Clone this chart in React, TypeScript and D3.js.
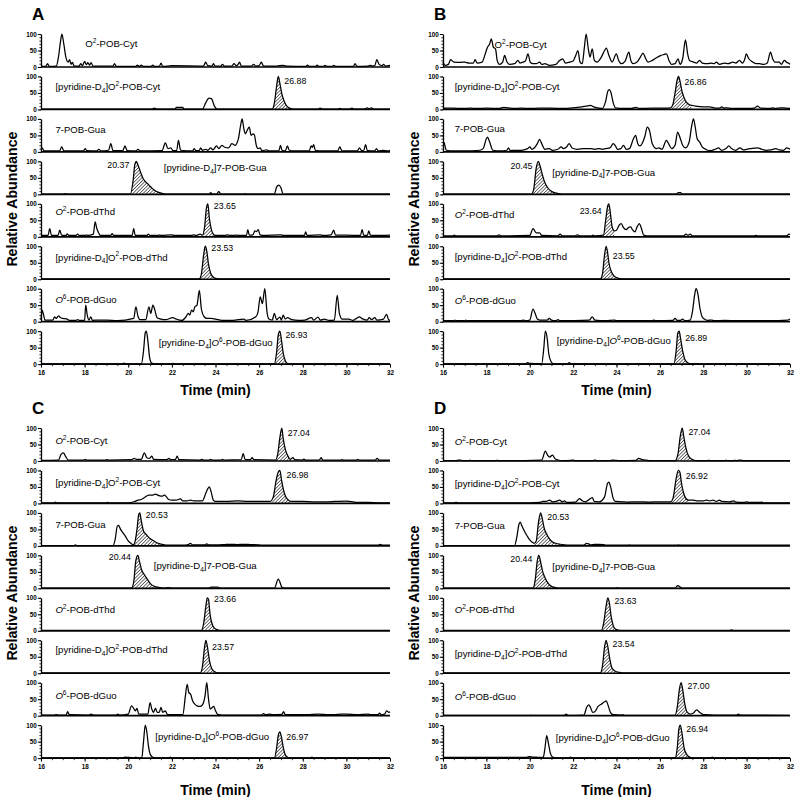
import React, { useRef, useEffect } from 'react';
import * as d3 from 'd3';

// Chromatogram traces: flat lists of [time (min), relative abundance (%)]
// Panel A
const a1 = [16,3, 16.22,2, 16.3,10, 16.38,2, 16.7,3, 16.8,30, 16.9,80, 16.96,100, 17.04,72, 17.14,30, 17.24,15, 17.31,22, 17.38,8, 17.44,14, 17.52,3, 17.75,3, 17.82,10, 17.9,4, 18.0,17, 18.08,7, 18.15,13, 18.22,6, 18.3,13, 18.38,3, 19.3,3, 19.37,10, 19.45,2, 20.35,2, 20.42,6, 20.5,2, 20.6,6, 20.68,2, 21.05,2, 21.12,6, 21.2,2, 21.43,2, 21.5,12, 21.58,2, 22.0,4, 23.45,3, 23.55,15, 23.64,4, 23.84,3, 23.9,10, 23.98,3, 24.25,3, 24.32,8, 24.4,3, 24.75,3, 24.85,10, 24.95,4, 25.04,8, 25.1,15, 25.18,3, 25.65,3, 25.75,8, 25.84,3, 26.0,4, 26.1,15, 26.2,3, 26.8,3, 27.08,5, 27.25,3, 28.15,2, 28.22,6, 28.3,2, 28.6,2, 28.66,6, 28.74,2, 28.95,2, 29.02,5, 29.1,2, 29.35,2, 29.42,5, 29.5,2, 30.32,2, 30.4,10, 30.48,2, 31.0,3, 31.1,5, 31.2,3, 31.3,4, 31.4,22, 31.5,8, 31.63,4, 31.7,8, 31.8,3, 32,5];
const a2 = [16,1, 18,1, 21.1,1, 21.2,4, 21.3,1, 22.15,1, 22.2,6, 22.5,6, 22.55,1, 23.4,1, 23.55,20, 23.7,34, 23.82,32, 23.95,10, 24.08,1, 26.6,1, 26.7,20, 26.8,70, 26.88,100, 26.95,80, 27.05,45, 27.15,25, 27.25,12, 27.4,4, 27.55,1, 28.7,1, 28.8,4, 28.9,1, 29.6,1, 29.7,3, 29.8,1, 30.15,1, 30.25,4, 30.35,1, 30.85,1, 30.95,5, 31.05,2, 31.15,5, 31.25,1, 32,1];
const a3 = [16,5, 16.05,12, 16.15,3, 16.85,3, 16.95,15, 17.05,3, 17.95,3, 18.02,10, 18.1,4, 18.55,3, 18.65,8, 18.75,3, 19.1,5, 19.2,25, 19.3,4, 19.75,4, 19.85,18, 19.95,4, 20.35,3, 20.45,8, 20.55,3, 21.55,4, 21.7,27, 21.82,10, 21.95,12, 22.05,4, 22.22,4, 22.3,35, 22.4,5, 22.95,3, 23.02,10, 23.1,4, 23.25,4, 23.32,12, 23.4,5, 23.55,8, 23.65,5, 23.78,12, 23.88,6, 24.05,18, 24.15,10, 24.3,20, 24.4,15, 24.6,12, 24.75,25, 24.9,20, 25.05,40, 25.15,80, 25.22,100, 25.3,70, 25.37,55, 25.45,65, 25.55,75, 25.63,50, 25.72,55, 25.78,52, 25.87,20, 25.95,10, 26.05,12, 26.12,4, 26.35,6, 26.45,3, 26.9,3, 26.98,20, 27.05,5, 27.2,3, 27.3,18, 27.38,5, 27.6,3, 28.3,3, 28.38,18, 28.44,14, 28.5,22, 28.58,4, 29.0,3, 29.6,3, 29.7,15, 29.8,3, 30.5,3, 30.6,12, 30.7,4, 30.8,5, 30.88,22, 30.96,4, 31.3,3, 31.38,10, 31.46,3, 31.7,5, 31.9,3, 32,5];
const a4 = [16,1, 17.05,1, 17.12,2, 17.2,1, 20.1,1, 20.22,40, 20.3,90, 20.37,100, 20.45,88, 20.55,70, 20.68,48, 20.8,38, 20.95,28, 21.1,18, 21.25,10, 21.4,6, 21.55,3, 21.7,1, 23.7,1, 23.78,5, 23.86,1, 24.05,1, 24.15,8, 24.25,1, 25.3,1, 25.35,2, 25.4,1, 26.7,1, 26.8,22, 26.9,28, 27.0,20, 27.1,1, 32,1];
const a5 = [16,4, 16.32,4, 16.4,25, 16.48,4, 16.78,4, 16.86,20, 16.95,4, 17.15,4, 17.2,9, 17.27,4, 17.6,4, 17.68,8, 17.76,4, 18.02,4, 18.08,6, 18.15,4, 18.4,8, 18.48,45, 18.56,25, 18.64,12, 18.72,4, 19.2,4, 19.26,10, 19.33,4, 20.18,4, 20.25,25, 20.32,4, 20.85,4, 20.92,8, 21.0,4, 21.38,4, 21.44,6, 21.5,4, 22.0,6, 22.1,4, 22.9,4, 23.0,6, 23.1,4, 23.3,8, 23.4,5, 23.5,30, 23.58,85, 23.65,100, 23.72,55, 23.8,25, 23.9,8, 24.0,4, 24.45,4, 24.55,6, 24.65,4, 25.0,5, 25.1,4, 25.42,4, 25.48,22, 25.55,5, 25.72,6, 25.8,18, 25.88,16, 25.96,22, 26.04,6, 26.2,4, 27.0,6, 27.1,4, 28.08,4, 28.13,15, 28.2,4, 28.8,6, 28.9,4, 29.3,6, 29.42,20, 29.5,5, 30.0,5, 30.65,4, 30.72,22, 30.8,4, 30.96,4, 31.03,18, 31.1,5, 31.25,4, 32,5];
const a6 = [16,1, 23.25,1, 23.35,15, 23.45,70, 23.53,100, 23.6,85, 23.68,45, 23.78,18, 23.9,6, 24.05,2, 24.2,1, 32,1];
const a7 = [16,5, 16.05,35, 16.12,20, 16.18,5, 16.55,5, 16.62,15, 16.7,10, 16.8,18, 16.9,12, 17.0,10, 17.2,8, 17.3,4, 17.6,4, 17.68,6, 17.76,4, 18.0,4, 18.05,50, 18.12,20, 18.2,5, 18.28,15, 18.36,4, 18.6,5, 19.0,5, 19.5,3, 20.25,10, 20.35,45, 20.45,15, 20.55,6, 20.8,6, 20.95,45, 21.03,25, 21.13,50, 21.22,35, 21.32,12, 21.5,8, 21.7,6, 22.05,12, 22.2,8, 22.45,4, 22.65,15, 22.75,25, 22.82,20, 22.9,35, 22.98,30, 23.05,45, 23.15,50, 23.26,95, 23.35,40, 23.48,15, 23.6,10, 23.8,10, 24.0,8, 24.3,4, 24.8,4, 25.3,8, 25.4,4, 25.85,15, 25.95,30, 26.05,75, 26.15,55, 26.26,100, 26.36,30, 26.45,8, 26.6,5, 26.7,25, 26.8,6, 26.95,14, 27.02,5, 27.1,20, 27.2,8, 27.3,12, 27.5,6, 27.8,4, 28.1,5, 28.4,12, 28.5,5, 28.7,14, 28.8,5, 29.0,8, 29.2,4, 29.45,5, 29.58,80, 29.68,25, 29.8,8, 30.1,8, 30.3,4, 30.6,15, 30.7,10, 30.95,5, 31.05,12, 31.15,6, 31.3,12, 31.4,5, 31.7,8, 31.84,22, 31.95,5, 32,5];
const a8 = [16,1, 19.7,1, 19.8,3, 19.9,1, 20.6,1, 20.7,40, 20.78,95, 20.83,100, 20.9,70, 20.98,20, 21.08,3, 21.2,1, 22.0,1, 22.05,2, 22.1,1, 26.7,1, 26.8,35, 26.88,90, 26.95,100, 27.02,75, 27.1,35, 27.2,10, 27.3,2, 27.4,1, 32,1];

// Panel B
const b1 = [16,15, 16.1,5, 16.25,8, 16.35,22, 16.5,15, 16.8,14, 17.0,15, 17.2,12, 17.4,12, 17.48,22, 17.58,12, 17.8,15, 17.95,40, 18.05,60, 18.15,70, 18.23,85, 18.32,60, 18.42,55, 18.5,20, 18.6,8, 18.75,15, 18.84,35, 18.95,15, 19.07,8, 19.3,10, 19.46,20, 19.55,12, 19.65,14, 19.8,18, 19.92,40, 20.02,15, 20.15,10, 20.3,10, 20.45,15, 20.55,8, 20.7,10, 20.9,5, 21.2,8, 21.35,18, 21.52,25, 21.65,12, 21.84,15, 22.0,18, 22.12,35, 22.22,50, 22.32,15, 22.42,10, 22.52,60, 22.6,100, 22.7,55, 22.78,30, 22.88,55, 22.98,20, 23.1,15, 23.3,30, 23.45,50, 23.53,57, 23.65,35, 23.8,15, 23.99,40, 24.1,20, 24.22,10, 24.4,18, 24.57,45, 24.66,20, 24.76,10, 24.95,15, 25.1,30, 25.22,42, 25.35,25, 25.45,15, 25.65,20, 25.84,28, 26.05,35, 26.2,38, 26.3,40, 26.42,20, 26.53,8, 26.7,10, 26.84,25, 26.93,8, 27.05,25, 27.18,82, 27.28,40, 27.37,20, 27.55,15, 27.7,12, 27.83,20, 27.95,12, 28.21,10, 28.35,12, 28.5,10, 28.6,15, 28.75,8, 28.98,12, 29.15,10, 29.36,15, 29.5,12, 29.67,20, 29.8,12, 29.92,25, 29.98,40, 30.1,25, 30.28,15, 30.45,10, 30.59,10, 30.8,8, 30.95,12, 31.1,45, 31.2,25, 31.3,15, 31.5,15, 31.6,8, 31.74,20, 31.85,14, 31.97,10, 32,8];
const b2 = [16,4, 16.5,4, 16.8,3, 17.3,4, 17.5,3, 18.0,4, 18.6,3, 18.8,6, 19.2,3, 19.6,4, 20.0,3, 20.4,4, 21.0,4, 21.5,3, 22.0,5, 22.4,8, 22.6,10, 22.8,12, 22.95,8, 23.2,4, 23.35,3, 23.5,25, 23.6,55, 23.67,60, 23.75,50, 23.85,20, 23.95,5, 24.3,3, 24.7,3, 24.9,6, 25.05,3, 25.6,4, 26.2,4, 26.5,5, 26.6,15, 26.7,50, 26.8,90, 26.86,100, 26.93,85, 27.02,55, 27.12,35, 27.22,22, 27.35,15, 27.5,12, 27.65,10, 28.0,8, 28.3,8, 28.5,5, 28.75,4, 28.85,8, 28.95,4, 29.1,5, 29.3,3, 30.0,3, 30.35,4, 30.5,10, 30.65,4, 31.1,3, 31.2,5, 31.3,3, 31.6,5, 31.8,4, 32,3];
const b3 = [16,30, 16.05,28, 16.15,5, 16.5,3, 17.0,3, 17.7,5, 17.85,10, 18.0,40, 18.05,45, 18.15,30, 18.3,5, 18.6,3, 18.95,5, 19.02,12, 19.1,4, 19.3,5, 19.6,5, 19.9,10, 20.0,15, 20.1,8, 20.35,25, 20.45,38, 20.55,25, 20.7,8, 20.9,10, 21.05,5, 21.3,8, 21.45,15, 21.55,10, 21.7,15, 21.82,25, 21.95,12, 22.2,8, 22.5,10, 22.8,10, 23.0,8, 23.2,10, 23.35,8, 23.5,10, 23.7,12, 23.85,25, 23.95,18, 24.05,8, 24.2,10, 24.32,20, 24.45,8, 24.6,10, 24.78,40, 24.88,50, 24.98,25, 25.08,18, 25.3,45, 25.42,75, 25.52,65, 25.65,25, 25.85,10, 25.95,12, 26.1,8, 26.3,35, 26.4,25, 26.55,10, 26.7,20, 26.82,60, 26.92,45, 27.05,20, 27.18,12, 27.35,30, 27.47,80, 27.55,100, 27.63,75, 27.72,40, 27.85,28, 27.95,15, 28.05,10, 28.2,5, 28.35,4, 28.55,8, 28.7,12, 28.85,5, 29.05,10, 29.18,18, 29.3,10, 29.5,5, 29.7,12, 29.85,6, 30.0,8, 30.2,10, 30.5,12, 30.7,8, 30.9,5, 31.1,6, 31.35,10, 31.5,6, 31.7,5, 31.85,12, 31.95,10, 32,8];
const b4 = [16,1, 20.08,1, 20.18,15, 20.3,80, 20.4,100, 20.48,85, 20.58,60, 20.7,35, 20.83,20, 20.98,10, 21.13,5, 21.28,3, 21.45,1, 26.75,1, 26.85,5, 26.95,5, 27.05,1, 32,1];
const b5 = [16,3, 16.45,3, 16.52,5, 16.6,3, 18.5,3, 18.58,6, 18.66,3, 20.0,4, 20.15,25, 20.3,12, 20.45,12, 20.55,4, 21.3,3, 21.4,8, 21.5,3, 22.1,3, 22.2,6, 22.3,3, 22.85,3, 22.92,5, 23.0,3, 23.4,5, 23.5,50, 23.6,95, 23.65,100, 23.72,70, 23.8,30, 23.9,18, 24.0,20, 24.12,35, 24.22,40, 24.32,28, 24.45,22, 24.55,28, 24.65,30, 24.75,20, 24.85,15, 24.95,30, 25.05,40, 25.15,25, 25.25,5, 25.4,3, 27.1,3, 27.2,8, 27.3,5, 27.4,8, 27.5,3, 30.35,3, 30.42,4, 30.5,3, 31.85,3, 31.95,8, 32,6];
const b6 = [16,1, 23.25,1, 23.35,15, 23.45,75, 23.52,100, 23.58,85, 23.65,50, 23.75,25, 23.88,10, 24.0,5, 24.15,2, 24.3,1, 32,1];
const b7 = [16,3, 16.5,3, 16.55,5, 16.6,3, 17.0,3, 17.05,5, 17.1,3, 19.6,3, 19.7,5, 19.8,3, 20.0,5, 20.15,38, 20.25,25, 20.35,8, 20.45,5, 20.8,5, 20.9,10, 21.0,5, 21.2,3, 21.3,6, 21.4,3, 22.75,5, 22.88,15, 23.0,5, 23.5,3, 23.9,5, 24.0,3, 25.65,3, 25.72,5, 25.8,3, 26.6,4, 26.7,10, 26.8,4, 26.95,4, 27.05,8, 27.15,3, 27.4,5, 27.5,30, 27.6,80, 27.67,100, 27.75,85, 27.85,40, 27.95,15, 28.05,8, 28.2,4, 28.4,5, 28.5,3, 29.0,4, 29.5,3, 30.0,3, 30.5,3, 31.0,3, 31.9,5, 32,8];
const b8 = [16,1, 19.8,1, 19.9,5, 20.0,2, 20.55,1, 20.65,50, 20.72,100, 20.8,80, 20.88,30, 20.98,8, 21.1,1, 21.75,1, 21.82,5, 21.9,1, 26.65,1, 26.75,40, 26.83,95, 26.89,100, 26.95,80, 27.05,40, 27.15,15, 27.25,6, 27.4,1, 32,1];

// Panel C
const c1 = [16,2, 16.8,3, 16.92,20, 17.03,25, 17.12,15, 17.25,3, 17.95,3, 18.03,5, 18.1,3, 18.95,3, 19.03,4, 19.1,3, 20.15,4, 20.28,8, 20.36,5, 20.6,5, 20.74,25, 20.85,10, 20.98,8, 21.08,15, 21.16,5, 21.78,4, 21.86,8, 21.94,4, 22.16,4, 22.24,15, 22.32,4, 23.3,3, 23.35,5, 23.45,3, 23.7,3, 23.78,5, 23.85,3, 24.25,3, 24.32,5, 24.4,3, 25.18,4, 25.27,22, 25.36,4, 25.6,4, 25.68,10, 25.76,4, 26.75,3, 26.85,20, 26.95,70, 27.04,100, 27.1,70, 27.2,35, 27.32,15, 27.42,5, 27.55,10, 27.63,4, 27.98,3, 28.05,6, 28.12,3, 28.76,3, 28.84,10, 28.92,3, 29.75,3, 29.8,4, 29.86,3, 30.45,3, 30.52,5, 30.6,3, 31.33,3, 31.41,8, 31.5,3, 32,3];
const c2 = [16,2, 16.6,2, 16.66,4, 16.72,2, 19.0,2, 19.05,3, 19.1,2, 20.0,2, 20.3,6, 20.45,10, 20.6,12, 20.75,18, 20.94,25, 21.1,25, 21.24,28, 21.4,24, 21.55,22, 21.65,25, 21.75,20, 21.85,12, 22.0,10, 22.2,10, 22.39,14, 22.5,8, 22.7,8, 22.85,10, 23.0,8, 23.2,8, 23.4,8, 23.55,30, 23.65,45, 23.72,50, 23.8,35, 23.9,10, 24.0,6, 24.5,6, 25.0,8, 25.5,6, 26.0,6, 26.5,6, 26.65,20, 26.78,70, 26.88,95, 26.95,100, 27.03,70, 27.12,40, 27.22,20, 27.35,10, 27.5,6, 28.0,6, 28.5,5, 29.0,5, 29.5,6, 30.0,7, 30.3,5, 30.5,3, 31.0,3, 31.5,2, 32,2];
const c3 = [16,1, 17.5,1, 17.58,3, 17.65,1, 19.3,1, 19.4,20, 19.5,60, 19.56,62, 19.65,50, 19.75,40, 19.88,28, 20.0,15, 20.12,8, 20.22,3, 20.3,10, 20.4,50, 20.48,95, 20.53,100, 20.6,75, 20.7,45, 20.82,35, 20.95,25, 21.1,18, 21.25,12, 21.45,6, 21.6,4, 21.8,2, 22.5,2, 22.75,4, 22.85,8, 22.95,3, 23.5,3, 23.6,6, 23.7,3, 24.1,3, 24.4,4, 24.7,5, 25.0,4, 25.3,5, 25.6,4, 26.0,3, 26.2,2, 28.0,2, 29.8,2, 31.45,2, 31.56,5, 31.65,2, 32,2];
const c4 = [16,1, 20.15,1, 20.25,20, 20.35,85, 20.44,100, 20.52,80, 20.62,55, 20.75,40, 20.9,25, 21.05,12, 21.2,6, 21.4,3, 21.6,1, 21.85,2, 22.0,1, 23.7,1, 23.8,4, 24.1,4, 24.2,1, 26.7,1, 26.88,28, 27.05,3, 27.15,1, 32,1];
const c5 = [16,1, 23.35,1, 23.45,20, 23.55,70, 23.62,100, 23.68,95, 23.75,50, 23.85,20, 23.95,8, 24.1,3, 24.25,1, 32,1];
const c6 = [16,1, 23.3,1, 23.4,20, 23.5,80, 23.56,100, 23.63,80, 23.72,40, 23.82,15, 23.95,5, 24.1,1, 32,1];
const c7 = [16,2, 16.6,2, 16.7,3, 16.8,2, 17.15,2, 17.22,12, 17.3,3, 18.2,2, 18.3,5, 18.4,2, 19.45,2, 19.52,5, 19.6,2, 20.0,5, 20.15,30, 20.25,22, 20.32,15, 20.4,22, 20.48,5, 20.9,5, 21.0,40, 21.08,20, 21.15,10, 21.25,22, 21.33,10, 21.42,10, 21.5,25, 21.58,10, 21.7,15, 21.8,3, 22.5,3, 22.62,60, 22.7,95, 22.78,70, 22.86,65, 22.95,45, 23.05,35, 23.15,30, 23.3,28, 23.42,35, 23.52,60, 23.6,100, 23.68,50, 23.76,20, 23.85,25, 23.92,28, 24.0,15, 24.1,4, 24.3,2, 26.1,2, 26.2,6, 26.3,3, 26.5,5, 26.6,3, 27.05,4, 27.12,12, 27.2,3, 27.8,3, 28.2,3, 28.7,5, 29.2,3, 29.6,4, 30.0,5, 30.5,3, 31.0,5, 31.1,3, 31.45,3, 31.52,8, 31.6,3, 31.75,5, 31.85,15, 31.95,10, 32,12];
const c8 = [16,1, 19.7,1, 19.85,3, 20.0,2, 20.3,1, 20.35,3, 20.42,1, 20.62,1, 20.7,50, 20.78,100, 20.85,80, 20.93,35, 21.02,10, 21.15,2, 21.3,1, 21.85,1, 21.92,3, 22.0,1, 26.7,1, 26.8,30, 26.88,70, 26.95,80, 27.02,65, 27.1,35, 27.2,10, 27.3,3, 27.4,1, 28.35,1, 28.42,3, 28.5,1, 32,1];

// Panel D
const dp1 = [16,1, 16.6,1, 16.7,3, 16.8,3, 16.9,1, 17.2,1, 17.25,3, 17.3,1, 18.45,1, 18.5,3, 18.55,1, 20.55,3, 20.72,30, 20.82,18, 20.92,12, 21.05,18, 21.15,8, 21.3,3, 21.5,1, 21.9,2, 22.0,3, 22.1,1, 22.9,1, 23.0,3, 23.1,1, 23.7,1, 23.8,3, 23.9,2, 24.0,2, 24.1,1, 24.9,2, 25.02,8, 25.15,5, 25.3,3, 25.5,1, 26.7,1, 26.83,20, 26.94,75, 27.03,100, 27.1,75, 27.2,40, 27.3,18, 27.42,8, 27.55,3, 27.7,1, 28.2,1, 28.25,3, 28.3,1, 29.0,1, 29.05,3, 29.1,1, 29.4,1, 29.45,3, 29.5,1, 29.7,3, 29.9,1, 32,1];
const dp2 = [16,2, 16.5,2, 16.6,3, 16.7,2, 18.0,2, 19.0,2, 20.0,2, 20.45,3, 20.6,6, 20.75,6, 20.92,10, 21.05,5, 21.2,6, 21.38,10, 21.5,5, 21.6,8, 21.7,3, 22.1,4, 22.3,15, 22.42,8, 22.55,5, 22.7,10, 22.88,18, 22.98,6, 23.2,5, 23.45,20, 23.58,60, 23.65,65, 23.73,50, 23.85,15, 23.95,6, 24.3,5, 24.5,4, 25.0,5, 25.5,4, 26.0,5, 26.5,5, 26.62,20, 26.75,75, 26.85,100, 26.92,95, 27.0,60, 27.1,30, 27.2,15, 27.32,10, 27.5,10, 27.7,8, 28.0,8, 28.15,10, 28.3,8, 28.45,10, 28.6,6, 28.75,10, 28.85,6, 29.2,5, 29.4,8, 29.5,4, 29.9,3, 30.0,5, 30.1,3, 30.6,3, 30.7,4, 30.8,2, 32,2];
const dp3 = [16,1, 19.3,1, 19.4,25, 19.5,65, 19.56,72, 19.64,60, 19.75,45, 19.88,30, 20.0,18, 20.1,12, 20.2,8, 20.3,15, 20.4,70, 20.5,100, 20.57,85, 20.66,55, 20.76,38, 20.9,22, 21.05,12, 21.2,8, 21.4,5, 21.6,3, 21.8,2, 22.5,2, 22.62,8, 22.72,6, 22.8,3, 23.0,5, 23.2,5, 23.4,4, 23.5,2, 24.5,2, 24.6,3, 24.7,2, 26.75,2, 26.85,3, 26.95,2, 32,2];
const dp4 = [16,1, 20.15,1, 20.25,25, 20.35,85, 20.42,100, 20.5,80, 20.6,50, 20.72,30, 20.85,15, 21.0,6, 21.15,3, 21.3,1, 24.0,1, 24.05,2, 24.1,1, 26.7,1, 26.82,8, 26.92,5, 27.02,1, 32,1];
const dp5 = [16,1, 23.3,1, 23.4,20, 23.52,75, 23.6,100, 23.67,85, 23.75,45, 23.85,15, 23.95,5, 24.1,2, 24.25,1, 29.2,1, 29.3,3, 29.4,1, 32,1];
const dp6 = [16,1, 23.25,1, 23.35,20, 23.45,80, 23.52,100, 23.6,80, 23.7,40, 23.8,15, 23.95,6, 24.1,3, 24.25,1, 32,1];
const dp7 = [16,1, 20.0,1, 20.05,2, 20.1,1, 21.6,1, 21.68,5, 21.76,1, 22.5,2, 22.62,25, 22.72,33, 22.8,25, 22.9,10, 23.0,12, 23.15,28, 23.3,35, 23.45,42, 23.52,45, 23.62,30, 23.72,10, 23.85,3, 24.25,2, 24.3,3, 24.35,1, 26.7,1, 26.8,25, 26.9,80, 26.98,100, 27.05,80, 27.15,35, 27.25,12, 27.4,5, 27.55,8, 27.7,18, 27.8,12, 27.95,5, 28.1,3, 28.5,2, 29.55,2, 29.62,5, 29.7,2, 32,1];
const dp8 = [16,2, 19.85,2, 19.95,5, 20.05,4, 20.15,3, 20.3,3, 20.4,2, 20.62,2, 20.7,30, 20.78,68, 20.86,45, 20.95,15, 21.05,3, 21.2,1, 21.8,1, 21.88,3, 21.95,1, 26.7,1, 26.8,30, 26.88,90, 26.94,100, 27.02,75, 27.12,30, 27.25,10, 27.35,4, 27.5,1, 28.35,1, 28.42,3, 28.5,1, 32,1];

// trace names (_x subscript, ^x superscript, *O italic O)
const namesA = ['O^2-POB-Cyt', '[pyridine-D_4]O^2-POB-Cyt', '7-POB-Gua', '[pyridine-D_4]7-POB-Gua', '*O^2-POB-dThd', '[pyridine-D_4]O^2-POB-dThd', '*O^6-POB-dGuo', '[pyridine-D_4]*O^6-POB-dGuo'];
const namesB = ['O^2-POB-Cyt', '[pyridine-D_4]O^2-POB-Cyt', '7-POB-Gua', '[pyridine-D_4]7-POB-Gua', '*O^2-POB-dThd', '[pyridine-D_4]*O^2-POB-dThd', '*O^6-POB-dGuo', '[pyridine-D_4]*O^6-POB-dGuo'];
const namesC = ['*O^2-POB-Cyt', '[pyridine-D_4]O^2-POB-Cyt', '7-POB-Gua', '[pyridine-D_4]7-POB-Gua', '*O^2-POB-dThd', '[pyridine-D_4]O^2-POB-dThd', '*O^6-POB-dGuo', '[pyridine-D_4]*O^6-POB-dGuo'];
const namesD = ['*O^2-POB-Cyt', '[pyridine-D_4]*O^2-POB-Cyt', '7-POB-Gua', '[pyridine-D_4]7-POB-Gua', '*O^2-POB-dThd', '[pyridine-D_4]*O^2-POB-dThd', '*O^6-POB-dGuo', '[pyridine-D_4]*O^6-POB-dGuo'];

// where the trace name sits: [time, abundance]
const namePosA = [[18.03, 71], [16.66, 70], [16.66, 67], [21.63, 80], [16.66, 76], [16.66, 67], [16.66, 66], [21.4, 66]];
const namePosB = [[18.38, 67], [16.54, 70], [16.54, 72], [21.04, 67], [16.54, 66], [16.54, 68], [16.54, 64], [21.25, 70]];
const namePosC = [[16.66, 63], [16.66, 64], [16.66, 63], [21.17, 68], [16.66, 63], [16.66, 71], [16.66, 62], [21.24, 64]];
const namePosD = [[16.54, 58], [16.54, 60], [16.54, 60], [21.04, 65], [16.54, 64], [16.54, 60], [16.54, 57], [21.2, 61]];

// hatched (integrated) peak windows, min
const hatchA = [null, [26.6, 27.55], null, [20.1, 21.7], [23.45, 23.95], [23.25, 24.2], null, [26.7, 27.4]];
const hatchB = [null, [26.5, 27.45], null, [20.08, 21.45], [23.4, 23.9], [23.25, 24.3], null, [26.65, 27.4]];
const hatchC = [[26.75, 27.45], [26.6, 27.45], [20.22, 21.8], [20.15, 21.6], [23.35, 24.25], [23.3, 24.1], null, [26.7, 27.4]];
const hatchD = [[26.7, 27.6], [26.55, 27.35], [20.2, 21.8], [20.15, 21.3], [23.3, 24.25], [23.25, 24.25], [26.7, 27.35], [26.7, 27.45]];

// retention time labels: [text, abundance, side]
const rtA = [null, ['26.88', 85, 'r'], null, ['20.37', 90, 'l'], ['23.65', 95, 'r'], ['23.53', 96, 'r'], null, ['26.93', 88, 'r']];
const rtB = [null, ['26.86', 82, 'r'], null, ['20.45', 85, 'l'], ['23.64', 78, 'l'], ['23.55', 72, 'r'], null, ['26.89', 80, 'r']];
const rtC = [['27.04', 85, 'r'], ['26.98', 86, 'r'], ['20.53', 93, 'r'], ['20.44', 94, 'l'], ['23.66', 96, 'r'], ['23.57', 79, 'r'], null, ['26.97', 64, 'r']];
const rtD = [['27.04', 89, 'r'], ['26.92', 83, 'r'], ['20.53', 88, 'r'], ['20.44', 89, 'l'], ['23.63', 92, 'r'], ['23.54', 88, 'r'], ['27.00', 90, 'r'], ['26.94', 88, 'r']];

const xTicks = d3.range(16, 33, 2);

const FONT = "Arial, 'Liberation Sans', Helvetica, sans-serif";

const addRich = (sel: any, markup: string, size: number) => {
    const parts = markup.split(/(_\d|\^\d|\*O)/).filter(s => s.length > 0);
    let cur = 0;
    parts.forEach(p => {
        let target = 0;
        let txt = p;
        let small = false;
        let ital = false;
        if (p[0] === '_') { target = size * 0.3; txt = p.slice(1); small = true; }
        else if (p[0] === '^') { target = -size * 0.42; txt = p.slice(1); small = true; }
        else if (p === '*O') { txt = 'O'; ital = true; }
        const ts = sel.append('tspan').text(txt);
        if (target !== cur) ts.attr('dy', target - cur);
        cur = target;
        if (small) ts.attr('font-size', size * 0.68);
        if (ital) ts.attr('font-style', 'italic');
    });
};

const Chromatograms: React.FC = () => {
    const ref = useRef<SVGSVGElement>(null);

    useEffect(() => {
        const svg = d3.select(ref.current);
        svg.selectAll('*').remove();

        const colX = [[41, 390], [443, 790]];
        const blockTop = [34, 428];
        const timeY = [395, 795];
        const rowStep = 42.45;
        const rowH = 33;

        const panels = [
            { letter: 'A', col: 0, blk: 0, traces: [a1, a2, a3, a4, a5, a6, a7, a8], names: namesA, pos: namePosA, hatch: hatchA, rt: rtA },
            { letter: 'B', col: 1, blk: 0, traces: [b1, b2, b3, b4, b5, b6, b7, b8], names: namesB, pos: namePosB, hatch: hatchB, rt: rtB },
            { letter: 'C', col: 0, blk: 1, traces: [c1, c2, c3, c4, c5, c6, c7, c8], names: namesC, pos: namePosC, hatch: hatchC, rt: rtC },
            { letter: 'D', col: 1, blk: 1, traces: [dp1, dp2, dp3, dp4, dp5, dp6, dp7, dp8], names: namesD, pos: namePosD, hatch: hatchD, rt: rtD },
        ];

        const defs = svg.append('defs');
        const pat = defs.append('pattern')
            .attr('id', 'hatch')
            .attr('width', 2.4)
            .attr('height', 2.4)
            .attr('patternUnits', 'userSpaceOnUse')
            .attr('patternTransform', 'rotate(45)');
        pat.append('rect').attr('width', 2.4).attr('height', 2.4).attr('fill', 'white');
        pat.append('line')
            .attr('x1', 0).attr('y1', 0).attr('x2', 0).attr('y2', 2.4)
            .attr('stroke', '#111').attr('stroke-width', 1.2);

        panels.forEach((p, pi) => {
            const [x0, x1] = colX[p.col];
            const top = blockTop[p.blk];
            const x = d3.scaleLinear().domain([16, 32]).range([x0, x1]);
            const g = svg.append('g');

            // panel letter
            g.append('text')
                .attr('x', x0 - 9)
                .attr('y', top - 14)
                .attr('font-size', 17)
                .attr('font-weight', 'bold')
                .text(p.letter);

            // y title
            const midY = top + (7 * rowStep + rowH) / 2;
            g.append('text')
                .attr('transform', `translate(${x0 - 24},${midY}) rotate(-90)`)
                .attr('text-anchor', 'middle')
                .attr('font-size', 14.2)
                .attr('font-weight', 'bold')
                .text('Relative Abundance');

            p.traces.forEach((flat, ri) => {
                const rTop = top + ri * rowStep;
                const y = d3.scaleLinear().domain([0, 100]).range([rTop + rowH, rTop]);
                const pts: [number, number][] = d3.range(0, flat.length, 2).map(i => [flat[i], flat[i + 1]]);

                const line = d3.line<[number, number]>()
                    .x(d => x(d[0]))
                    .y(d => y(d[1]))
                    .curve(d3.curveMonotoneX);

                const h = p.hatch[ri] as number[] | null;
                if (h) {
                    const cid = `clip-${pi}-${ri}`;
                    defs.append('clipPath').attr('id', cid)
                        .append('rect')
                        .attr('x', x(h[0]))
                        .attr('y', rTop - 2)
                        .attr('width', x(h[1]) - x(h[0]))
                        .attr('height', rowH + 2);
                    const area = d3.area<[number, number]>()
                        .x(d => x(d[0]))
                        .y0(y(0))
                        .y1(d => y(d[1]))
                        .curve(d3.curveMonotoneX);
                    g.append('path')
                        .datum(pts)
                        .attr('d', area)
                        .attr('fill', 'url(#hatch)')
                        .attr('clip-path', `url(#${cid})`);
                }

                g.append('path')
                    .datum(pts)
                    .attr('d', line)
                    .attr('fill', 'none')
                    .attr('stroke', '#000')
                    .attr('stroke-width', 1.25)
                    .attr('stroke-linejoin', 'round');

                // y axis
                const yMinor = g.append('g')
                    .attr('transform', `translate(${x0},0)`)
                    .call(d3.axisLeft(y).tickValues(d3.range(0, 101, 10)).tickSize(1.6).tickFormat(() => ''));
                yMinor.select('.domain').remove();
                yMinor.selectAll('line').attr('stroke-width', 0.8);

                const yAx = g.append('g')
                    .attr('transform', `translate(${x0},0)`)
                    .call(d3.axisLeft(y).tickValues([0, 50, 100]).tickSize(3.2).tickSizeOuter(0).tickPadding(1));
                yAx.select('.domain').attr('stroke-width', 1.3);
                yAx.selectAll('line').attr('stroke-width', 1);
                yAx.selectAll('text')
                    .attr('font-size', 6.3)
                    .attr('font-weight', 'bold')
                    .attr('font-family', FONT);

                // baseline
                g.append('line')
                    .attr('x1', x0).attr('x2', x1)
                    .attr('y1', y(0)).attr('y2', y(0))
                    .attr('stroke', '#000')
                    .attr('stroke-width', 1.7);

                // trace name
                const nm = g.append('text')
                    .attr('x', x(p.pos[ri][0]))
                    .attr('y', y(p.pos[ri][1]))
                    .attr('dy', '0.35em')
                    .attr('font-size', 9.6)
                    .attr('font-family', FONT);
                addRich(nm, p.names[ri], 9.6);

                // retention time label
                const rt = p.rt[ri] as [string, number, string] | null;
                if (rt) {
                    const tx = x(parseFloat(rt[0]));
                    g.append('text')
                        .attr('x', rt[2] === 'r' ? tx + 6 : tx - 7)
                        .attr('y', y(rt[1]))
                        .attr('dy', '0.35em')
                        .attr('text-anchor', rt[2] === 'r' ? 'start' : 'end')
                        .attr('font-size', 8.8)
                        .attr('font-family', FONT)
                        .text(rt[0]);
                }

                // bottom time axis on last row
                if (ri === 7) {
                    const xMinor = g.append('g')
                        .attr('transform', `translate(0,${y(0)})`)
                        .call(d3.axisBottom(x).tickValues(d3.range(16, 32.01, 0.5)).tickSize(2).tickFormat(() => ''));
                    xMinor.select('.domain').remove();
                    xMinor.selectAll('line').attr('stroke-width', 0.8);
                    const xAx = g.append('g')
                        .attr('transform', `translate(0,${y(0)})`)
                        .call(d3.axisBottom(x).tickValues(xTicks).tickSize(3.5).tickSizeOuter(0).tickPadding(2.5));
                    xAx.select('.domain').remove();
                    xAx.selectAll('line').attr('stroke-width', 1);
                    xAx.selectAll('text')
                        .attr('font-size', 6.3)
                        .attr('font-weight', 'bold')
                        .attr('font-family', FONT);
                }
            });

            g.append('text')
                .attr('x', (x0 + x1) / 2)
                .attr('y', timeY[p.blk])
                .attr('text-anchor', 'middle')
                .attr('font-size', 14)
                .attr('font-weight', 'bold')
                .text('Time (min)');
        });
    }, []);

    return (
        <svg
            ref={ref}
            width={800}
            height={797}
            style={{ position: 'absolute', left: 0, top: 0, background: '#fff', fontFamily: FONT }}
        />
    );
};

const App: React.FC = () => <Chromatograms />;

export default App;
